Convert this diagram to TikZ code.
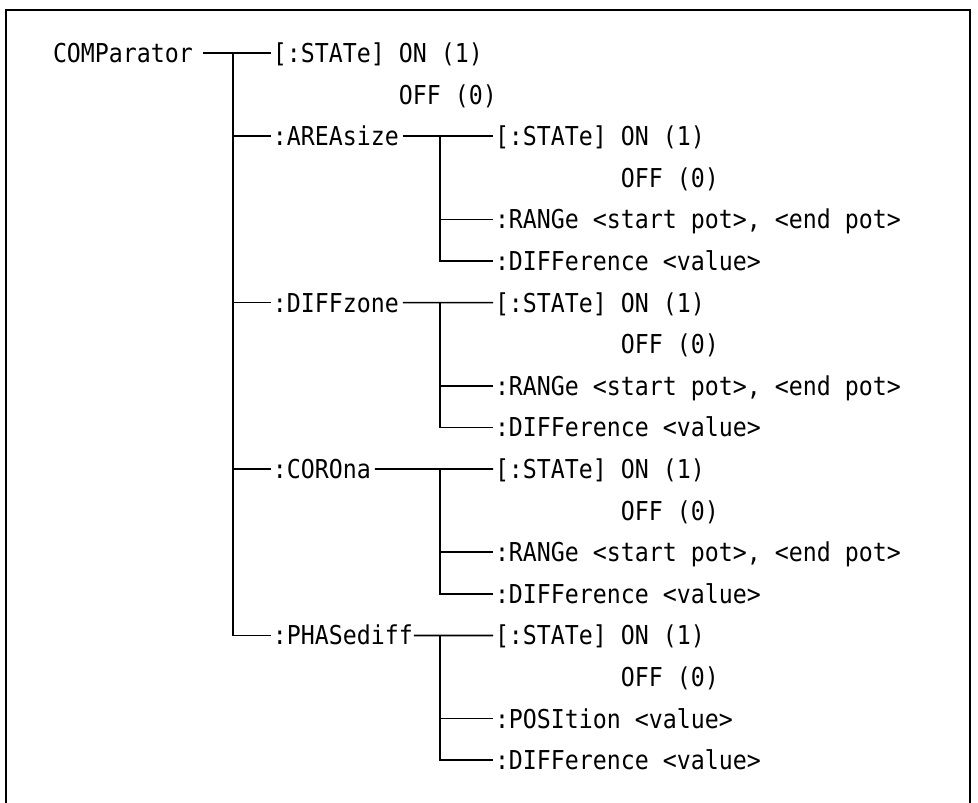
\documentclass[tikz,border=0pt]{standalone}
\usepackage{fontspec}
\usepackage{tikz}
\usetikzlibrary{positioning}
\usetikzlibrary{calc}
\newfontfamily\scpifont[FakeStretch=0.894]{DejaVu Sans Mono}

\begin{document}
\begin{tikzpicture}[
        x=1pt, y=1pt,
        line width=1.7pt,
        cmd/.style={font=\scpifont\fontsize{26pt}{30pt}\selectfont,
                    inner sep=0pt, outer sep=0pt,
                    text height=22pt, text depth=3pt},
        under/.style={below=16.6pt of #1.south west, anchor=north west},
        undertwo/.style={below=58.2pt of #1.south west, anchor=north west},
        underfour/.style={below=141.4pt of #1.south west, anchor=north west},
        branch/.style={shorten >=2pt}
    ]
    \useasboundingbox (0,0) rectangle (978,-803);

    % frame, open at the bottom
    \draw[line width=2pt] (6,-803) -- (6,-10) -- (970,-10) -- (970,-803);

    % ------- COMParator (root row) -------
    \node[cmd, anchor=west] (root) at (53,-53) {COMParator};
    \node[cmd, right=80pt of root] (st0) {[:STATe]};
    \node[cmd, right=14pt of st0] (on0) {ON (1)};
    \node[cmd, under=on0] (off0) {OFF (0)};

    % ------- second level -------
    \node[cmd, undertwo=st0] (area) {:AREAsize};
    \node[cmd, underfour=area] (dzone) {:DIFFzone};
    \node[cmd, underfour=dzone] (corona) {:COROna};
    \node[cmd, underfour=corona] (phase) {:PHASediff};

    \coordinate (trunk) at ($(root.east)+(40pt,0)$);
    \draw[shorten <=10pt, branch] (root) -- (st0);
    \draw[branch] (trunk) |- (area);
    \draw[branch] (trunk) |- (dzone);
    \draw[branch] (trunk) |- (corona);
    \draw[branch] (trunk) |- (phase);

    % ------- :AREAsize -------
    \node[cmd, anchor=west] (stA) at (area.west -| 495,0) {[:STATe]};
    \node[cmd, right=14pt of stA] (onA) {ON (1)};
    \node[cmd, under=onA] (offA) {OFF (0)};
    \node[cmd, undertwo=stA] (rngA) {:RANGe <start pot>, <end pot>};
    \node[cmd, under=rngA] (difA) {:DIFFerence <value>};

    \coordinate (knotA) at ($(stA.west)+(-55pt,0)$);
    \draw[shorten <=4pt, branch] (area) -- (stA);
    \draw[branch] (knotA) |- (rngA);
    \draw[branch] (knotA) |- (difA);

    % ------- :DIFFzone -------
    \node[cmd, under=difA] (stD) {[:STATe]};
    \node[cmd, right=14pt of stD] (onD) {ON (1)};
    \node[cmd, under=onD] (offD) {OFF (0)};
    \node[cmd, undertwo=stD] (rngD) {:RANGe <start pot>, <end pot>};
    \node[cmd, under=rngD] (difD) {:DIFFerence <value>};

    \coordinate (knotD) at ($(stD.west)+(-55pt,0)$);
    \draw[shorten <=4pt, branch] (dzone) -- (stD);
    \draw[branch] (knotD) |- (rngD);
    \draw[branch] (knotD) |- (difD);

    % ------- :COROna -------
    \node[cmd, under=difD] (stC) {[:STATe]};
    \node[cmd, right=14pt of stC] (onC) {ON (1)};
    \node[cmd, under=onC] (offC) {OFF (0)};
    \node[cmd, undertwo=stC] (rngC) {:RANGe <start pot>, <end pot>};
    \node[cmd, under=rngC] (difC) {:DIFFerence <value>};

    \coordinate (knotC) at ($(stC.west)+(-55pt,0)$);
    \draw[shorten <=4pt, branch] (corona) -- (stC);
    \draw[branch] (knotC) |- (rngC);
    \draw[branch] (knotC) |- (difC);

    % ------- :PHASediff -------
    \node[cmd, under=difC] (stP) {[:STATe]};
    \node[cmd, right=14pt of stP] (onP) {ON (1)};
    \node[cmd, under=onP] (offP) {OFF (0)};
    \node[cmd, undertwo=stP] (posP) {:POSItion <value>};
    \node[cmd, under=posP] (difP) {:DIFFerence <value>};

    \coordinate (knotP) at ($(stP.west)+(-55pt,0)$);
    \draw[shorten <=1pt, branch] (phase) -- (stP);
    \draw[branch] (knotP) |- (posP);
    \draw[branch] (knotP) |- (difP);

\end{tikzpicture}
\end{document}
